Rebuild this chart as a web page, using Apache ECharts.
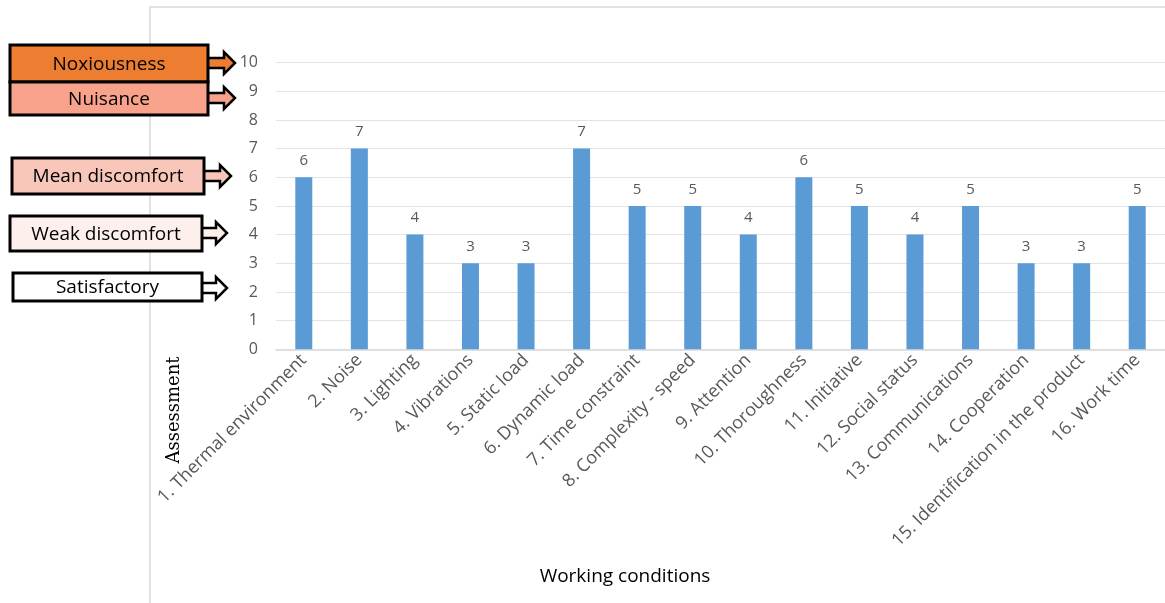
<!DOCTYPE html>
<html>
<head>
<meta charset="utf-8">
<script src="https://cdn.jsdelivr.net/npm/echarts@6/dist/echarts.min.js"></script>
<style>html,body{margin:0;padding:0;background:#fff;}#c{width:1165px;height:603px;}</style>
</head>
<body>
<div id="c"></div>
<script>
const categories = ["1. Thermal environment","2. Noise","3. Lighting","4. Vibrations","5. Static load","6. Dynamic load","7. Time constraint","8. Complexity - speed","9. Attention","10. Thoroughness","11. Initiative","12. Social status","13. Communications","14. Cooperation","15. Identification in the product","16. Work time"];
const values = [6,7,4,3,3,7,5,5,4,6,5,4,5,3,3,5];
const yTickLabels = ["0","1","2","3","4","5","6","7","8","9","10"];
const levelNames = ["Noxiousness","Nuisance","Mean discomfort","Weak discomfort","Satisfactory"];
const levelColors = ["#ED7D31","#F8A28C","#F9C7BA","#FDF0EC","#FFFFFF"];
const xTitle = "Working conditions";
const yTitle = "Assessment";

// annotation box geometry [x, y, w, h, arrowCenterY, arrowTipX]
const boxGeom = [
  [10, 45, 198, 37, 63, 235],
  [10, 82, 198, 33, 98, 235],
  [12, 158, 192, 36, 176, 231],
  [10, 216, 192, 35, 233, 227],
  [13, 273, 189, 28, 288, 227]
];

const FONT = "Open Sans";
const chart = echarts.init(document.getElementById('c'), null, {renderer:'canvas'});

const graphics = [];
graphics.push({type:'rect', shape:{x:150, y:7, width:1100, height:700}, style:{fill:'none', stroke:'#d9d9d9', lineWidth:1.5}, z:0});
levelNames.forEach((name, i) => {
  const [x, y, w, h, cy, tip] = boxGeom[i];
  const x0 = x + w;
  const shaftH = 5, headH = 11;
  const base = tip - 11;
  graphics.push({type:'polygon', shape:{points:[
      [x0-2, cy-shaftH],[base, cy-shaftH],[base, cy-headH],[tip, cy],[base, cy+headH],[base, cy+shaftH],[x0-2, cy+shaftH]]},
    style:{fill:levelColors[i], stroke:'#000', lineWidth:2.5}, z:10});
  graphics.push({type:'rect', shape:{x:x, y:y, width:w, height:h}, style:{fill:levelColors[i], stroke:'#000', lineWidth:3}, z:11});
  graphics.push({type:'text', x:x + w/2, y:y + h/2 + 1, style:{text:name, font:'19px "' + FONT + '"', fill:'#000', align:'center', verticalAlign:'middle'}, z:12});
});
graphics.push({type:'text', x:625, y:577, style:{text:xTitle, font:'19px "' + FONT + '"', fill:'#000', align:'center', verticalAlign:'middle'}, z:5});
graphics.push({type:'text', x:174, y:410, rotation:Math.PI/2, style:{text:yTitle, font:'18px "DejaVu Serif"', fill:'#000', align:'center', verticalAlign:'middle'}, z:5});

chart.setOption({
  animation:false,
  textStyle:{fontFamily:FONT},
  grid:{left:276, top:62.6, width:894, height:286.7, containLabel:false},
  xAxis:{type:'category', data:categories,
    axisLine:{lineStyle:{color:'#d9d9d9', width:1.5}},
    axisTick:{show:false},
    axisLabel:{rotate:45, interval:0, color:'#595959', fontSize:18, fontFamily:FONT, margin:8}},
  yAxis:{type:'value', min:0, max:10, interval:1,
    axisLine:{show:false}, axisTick:{show:false},
    splitLine:{lineStyle:{color:'#e3e3e3', width:1}},
    axisLabel:{color:'#595959', fontSize:16, fontFamily:FONT, margin:18,
      formatter:(v)=>yTickLabels[Math.round(v)]}},
  series:[{type:'bar', data:values, barWidth:17, itemStyle:{color:'#5B9BD5'},
    label:{show:true, position:'top', distance:9, color:'#595959', fontSize:15, fontFamily:FONT}}],
  graphic:graphics
});
</script>
</body>
</html>
